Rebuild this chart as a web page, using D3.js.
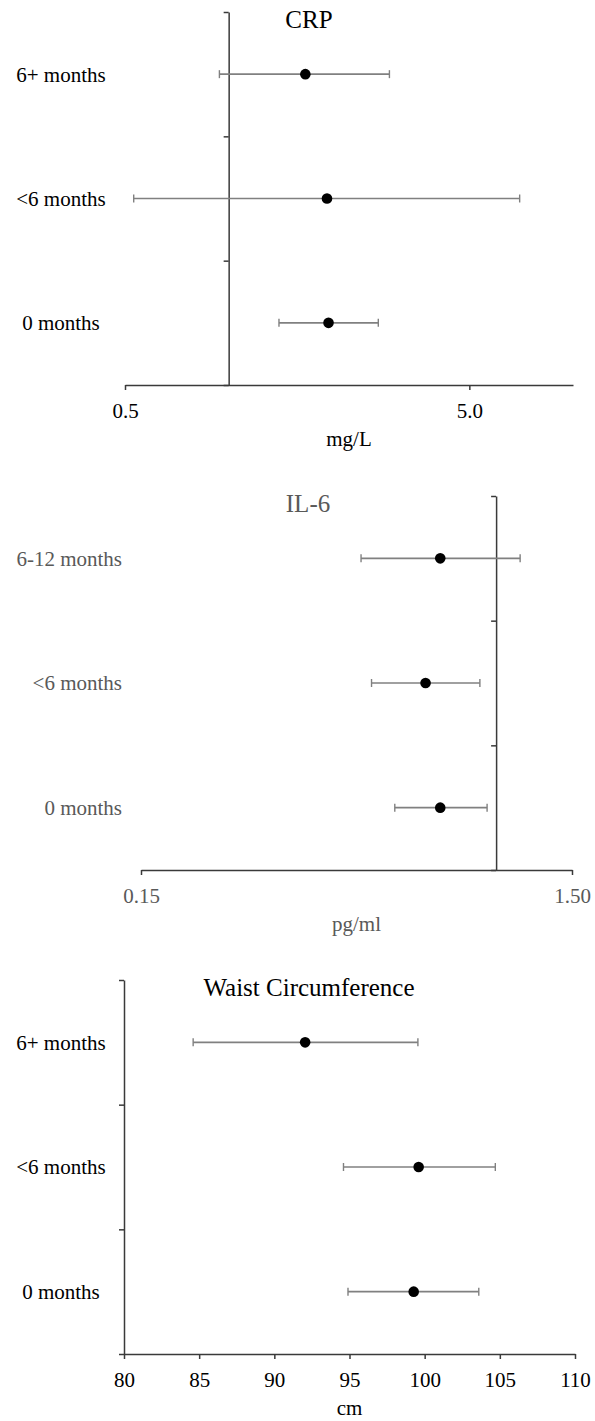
<!DOCTYPE html>
<html>
<head>
<meta charset="utf-8">
<script src="https://cdn.jsdelivr.net/npm/d3@7"></script>
<style>
  html, body { margin: 0; padding: 0; background: #ffffff; }
  svg { display: block; }
  text { font-family: "Liberation Serif", "Times New Roman", serif; }
</style>
</head>
<body>
<svg id="chart" width="595" height="1421"></svg>
<script>
// ---------------- DATA ----------------
const crpCategories = ["6+ months", "<6 months", "0 months"];
const crpMean  = [1.67, 1.93, 1.95];
const crpLower = [0.94, 0.53, 1.40];
const crpUpper = [2.93, 7.00, 2.72];
const crpTicks = [0.5, 5.0];
const crpDomain = [0.5, 10];
const crpRef = 1.0;

const il6Categories = ["6-12 months", "<6 months", "0 months"];
const il6Mean  = [0.742, 0.686, 0.742];
const il6Lower = [0.486, 0.514, 0.582];
const il6Upper = [1.137, 0.917, 0.953];
const il6Ticks = [0.15, 1.50];
const il6Domain = [0.15, 1.50];
const il6Ref = 1.0;

const waistCategories = ["6+ months", "<6 months", "0 months"];
const waistMean  = [92.05, 99.6, 99.27];
const waistLower = [84.6, 94.6, 94.9];
const waistUpper = [99.55, 104.7, 103.6];
const waistTicks = [80, 85, 90, 95, 100, 105, 110];
const waistDomain = [80, 110];
const waistRef = 80;

// ---------------- LAYOUT ----------------
const panels = [
  {
    title: "CRP", unit: "mg/L", categories: crpCategories,
    mean: crpMean, lower: crpLower, upper: crpUpper, ticks: crpTicks,
    domain: crpDomain, ref: crpRef, log: true, fmt: d3.format(".1f"),
    x0: 125, x1: 573, y0: 12, y1: 385, titleX: 309, titleY: 28,
    labelX: 61, labelAnchor: "middle", textColor: "#000000"
  },
  {
    title: "IL-6", unit: "pg/ml", categories: il6Categories,
    mean: il6Mean, lower: il6Lower, upper: il6Upper, ticks: il6Ticks,
    domain: il6Domain, ref: il6Ref, log: true, fmt: d3.format(".2f"),
    x0: 141, x1: 572, y0: 496, y1: 870, titleX: 308, titleY: 512,
    labelX: 122, labelAnchor: "end", textColor: "#595959"
  },
  {
    title: "Waist Circumference", unit: "cm", categories: waistCategories,
    mean: waistMean, lower: waistLower, upper: waistUpper, ticks: waistTicks,
    domain: waistDomain, ref: waistRef, log: false, fmt: d3.format("d"),
    x0: 124, x1: 575, y0: 980, y1: 1354, titleX: 309, titleY: 996,
    labelX: 61, labelAnchor: "middle", textColor: "#000000"
  }
];

const svg = d3.select("#chart");
const axisColor = "#3a3a3a";
const barColor = "#808080";

panels.forEach(p => {
  const g = svg.append("g");
  const x = (p.log ? d3.scaleLog() : d3.scaleLinear())
    .domain(p.domain).range([p.x0, p.x1]);
  const y = d3.scaleBand().domain(p.categories).range([p.y0, p.y1]).padding(0);
  const yEdge = d3.scaleLinear().domain([0, p.categories.length]).range([p.y0, p.y1]);

  // x axis
  const xAxis = d3.axisBottom(x)
    .tickValues(p.ticks).tickFormat(p.fmt)
    .tickSize(5).tickSizeOuter(0).tickPadding(13);
  const xg = g.append("g").attr("transform", `translate(0,${p.y1})`).call(xAxis);
  xg.select(".domain").attr("stroke", axisColor).attr("stroke-width", 1.5);
  xg.selectAll(".tick line").attr("stroke", axisColor).attr("stroke-width", 1.5);
  xg.selectAll(".tick text")
    .attr("fill", p.textColor)
    .style("font-family", "'Liberation Serif', 'Times New Roman', serif")
    .style("font-size", "21px");

  // y axis (vertical reference line with boundary ticks)
  const yAxis = d3.axisLeft(yEdge)
    .tickValues(d3.range(p.categories.length + 1))
    .tickFormat("").tickSize(5).tickSizeOuter(0);
  const yg = g.append("g").attr("transform", `translate(${x(p.ref)},0)`).call(yAxis);
  yg.select(".domain").attr("stroke", axisColor).attr("stroke-width", 1.5);
  yg.selectAll(".tick line").attr("stroke", axisColor).attr("stroke-width", 1.5);

  // category labels
  g.selectAll("text.cat").data(p.categories).enter().append("text")
    .attr("class", "cat")
    .attr("x", p.labelX)
    .attr("y", d => y(d) + y.bandwidth() / 2)
    .attr("dy", "0.35em")
    .attr("text-anchor", p.labelAnchor)
    .attr("fill", p.textColor)
    .style("font-size", "21px")
    .text(d => d);

  const rows = p.categories.map((c, i) => ({
    c, m: p.mean[i], lo: p.lower[i], hi: p.upper[i]
  }));

  // error bars
  const capH = 4;
  const eb = g.append("g");
  eb.selectAll("line.whisker").data(rows).enter().append("line")
    .attr("x1", d => x(d.lo)).attr("x2", d => x(d.hi))
    .attr("y1", d => y(d.c) + y.bandwidth() / 2).attr("y2", d => y(d.c) + y.bandwidth() / 2)
    .attr("stroke", barColor).attr("stroke-width", 1.6);
  eb.selectAll("line.capL").data(rows).enter().append("line")
    .attr("x1", d => x(d.lo)).attr("x2", d => x(d.lo))
    .attr("y1", d => y(d.c) + y.bandwidth() / 2 - capH).attr("y2", d => y(d.c) + y.bandwidth() / 2 + capH)
    .attr("stroke", barColor).attr("stroke-width", 1.4);
  eb.selectAll("line.capR").data(rows).enter().append("line")
    .attr("x1", d => x(d.hi)).attr("x2", d => x(d.hi))
    .attr("y1", d => y(d.c) + y.bandwidth() / 2 - capH).attr("y2", d => y(d.c) + y.bandwidth() / 2 + capH)
    .attr("stroke", barColor).attr("stroke-width", 1.4);

  // points
  g.selectAll("circle.pt").data(rows).enter().append("circle")
    .attr("cx", d => x(d.m))
    .attr("cy", d => y(d.c) + y.bandwidth() / 2)
    .attr("r", 5.3)
    .attr("fill", "#000000");

  // title
  g.append("text")
    .attr("x", p.titleX).attr("y", p.titleY)
    .attr("text-anchor", "middle")
    .attr("fill", p.textColor)
    .style("font-size", "25px")
    .text(p.title);

  // unit label
  g.append("text")
    .attr("x", (p.x0 + p.x1) / 2).attr("y", p.y1 + 61)
    .attr("text-anchor", "middle")
    .attr("fill", p.textColor)
    .style("font-size", "21px")
    .text(p.unit);
});
</script>
</body>
</html>
